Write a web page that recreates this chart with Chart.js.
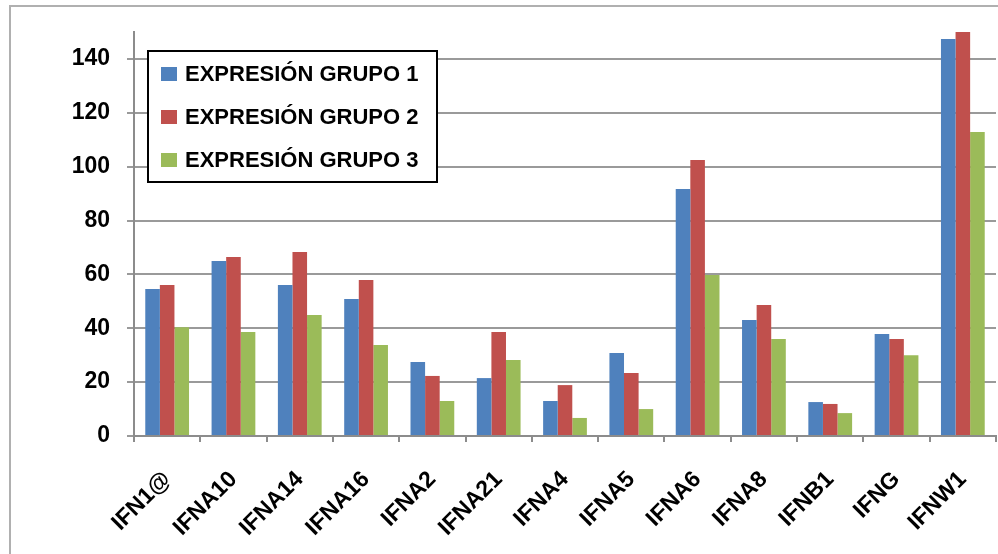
<!DOCTYPE html>
<html>
<head>
    <title>Expresión por grupo</title>
    <script src="https://cdn.jsdelivr.net/npm/chart.js"></script>
    <style>
        body { margin: 0; background: #fff; }
        #frame { position: absolute; left: 9px; top: 5px; width: 995px; height: 560px;
                 border-top: 2px solid #b0b0b0; border-left: 2px solid #b0b0b0; }
        #wrap { position: absolute; left: 0; top: 0; width: 998px; height: 554px; }
    </style>
</head>
<body>
    <div id="frame"></div>
    <div id="wrap"><canvas id="expChart" width="998" height="554"></canvas></div>
    <script>
        var genes = ['IFN1@', 'IFNA10', 'IFNA14', 'IFNA16', 'IFNA2', 'IFNA21', 'IFNA4',
                     'IFNA5', 'IFNA6', 'IFNA8', 'IFNB1', 'IFNG', 'IFNW1'];
        var grupo1 = [54.6, 65, 56.1, 50.9, 27.5, 21.5, 13, 30.8, 91.7, 43.1, 12.6, 37.9, 147.4];
        var grupo2 = [56.1, 66.5, 68.3, 57.9, 22.3, 38.6, 18.9, 23.4, 102.5, 48.6, 11.9, 36, 150];
        var grupo3 = [40.4, 38.6, 44.9, 33.8, 13, 28.2, 6.7, 10, 59.8, 36, 8.5, 30, 112.9];
        var seriesNames = ['EXPRESIÓN GRUPO 1', 'EXPRESIÓN GRUPO 2', 'EXPRESIÓN GRUPO 3'];

        // legend box drawn by hand, Excel style
        var boxLegend = {
            id: 'boxLegend',
            afterDraw: function(chart) {
                var ctx = chart.ctx;
                ctx.save();
                ctx.fillStyle = '#fff';
                ctx.fillRect(148, 51, 289, 131);
                ctx.strokeStyle = '#000';
                ctx.lineWidth = 2;
                ctx.strokeRect(148, 51, 289, 131);
                ctx.font = 'bold 22px "Liberation Sans", Arial, sans-serif';
                ctx.textBaseline = 'middle';
                chart.data.datasets.forEach(function(ds, i) {
                    var cy = 74 + i * 43;
                    ctx.fillStyle = ds.backgroundColor;
                    ctx.fillRect(161, cy - 7, 16, 14);
                    ctx.fillStyle = '#000';
                    ctx.fillText(ds.label, 185, cy + 1);
                });
                ctx.restore();
            }
        };

        var ctx = document.getElementById('expChart').getContext('2d');
        var expChart = new Chart(ctx, {
            type: 'bar',
            data: {
                labels: genes,
                datasets: [
                    { label: seriesNames[0], data: grupo1, backgroundColor: '#4F81BD' },
                    { label: seriesNames[1], data: grupo2, backgroundColor: '#C0504D' },
                    { label: seriesNames[2], data: grupo3, backgroundColor: '#9BBB59' }
                ]
            },
            options: {
                responsive: false,
                animation: false,
                layout: { padding: { top: 32, right: 2, left: 0, bottom: 0 } },
                datasets: { bar: { categoryPercentage: 0.66, barPercentage: 1.0 } },
                plugins: { legend: { display: false }, tooltip: { enabled: false } },
                scales: {
                    x: {
                        grid: { drawOnChartArea: false, tickLength: 6, color: '#8c8c8c', lineWidth: 2 },
                        border: { color: '#8c8c8c', width: 2 },
                        ticks: {
                            color: '#000',
                            font: { family: '"Liberation Sans", Arial, sans-serif', size: 23, weight: 'bold' },
                            minRotation: 45, maxRotation: 45, padding: 24, autoSkip: false
                        },
                        afterFit: function(axis) {
                            axis.height = 118;
                            axis.paddingLeft = 0;
                            axis.paddingRight = 0;
                        }
                    },
                    y: {
                        min: 0, max: 150,
                        grid: { tickLength: 7, color: '#9a9a9a', lineWidth: 2 },
                        border: { color: '#8c8c8c', width: 2 },
                        ticks: {
                            stepSize: 20, color: '#000', padding: 17,
                            font: { family: '"Liberation Sans", Arial, sans-serif', size: 23, weight: 'bold' }
                        },
                        afterBuildTicks: function(axis) {
                            axis.ticks = axis.ticks.filter(function(t) { return t.value % 20 === 0; });
                        },
                        afterFit: function(axis) { axis.width = 134; }
                    }
                }
            },
            plugins: [boxLegend]
        });
    </script>
</body>
</html>
